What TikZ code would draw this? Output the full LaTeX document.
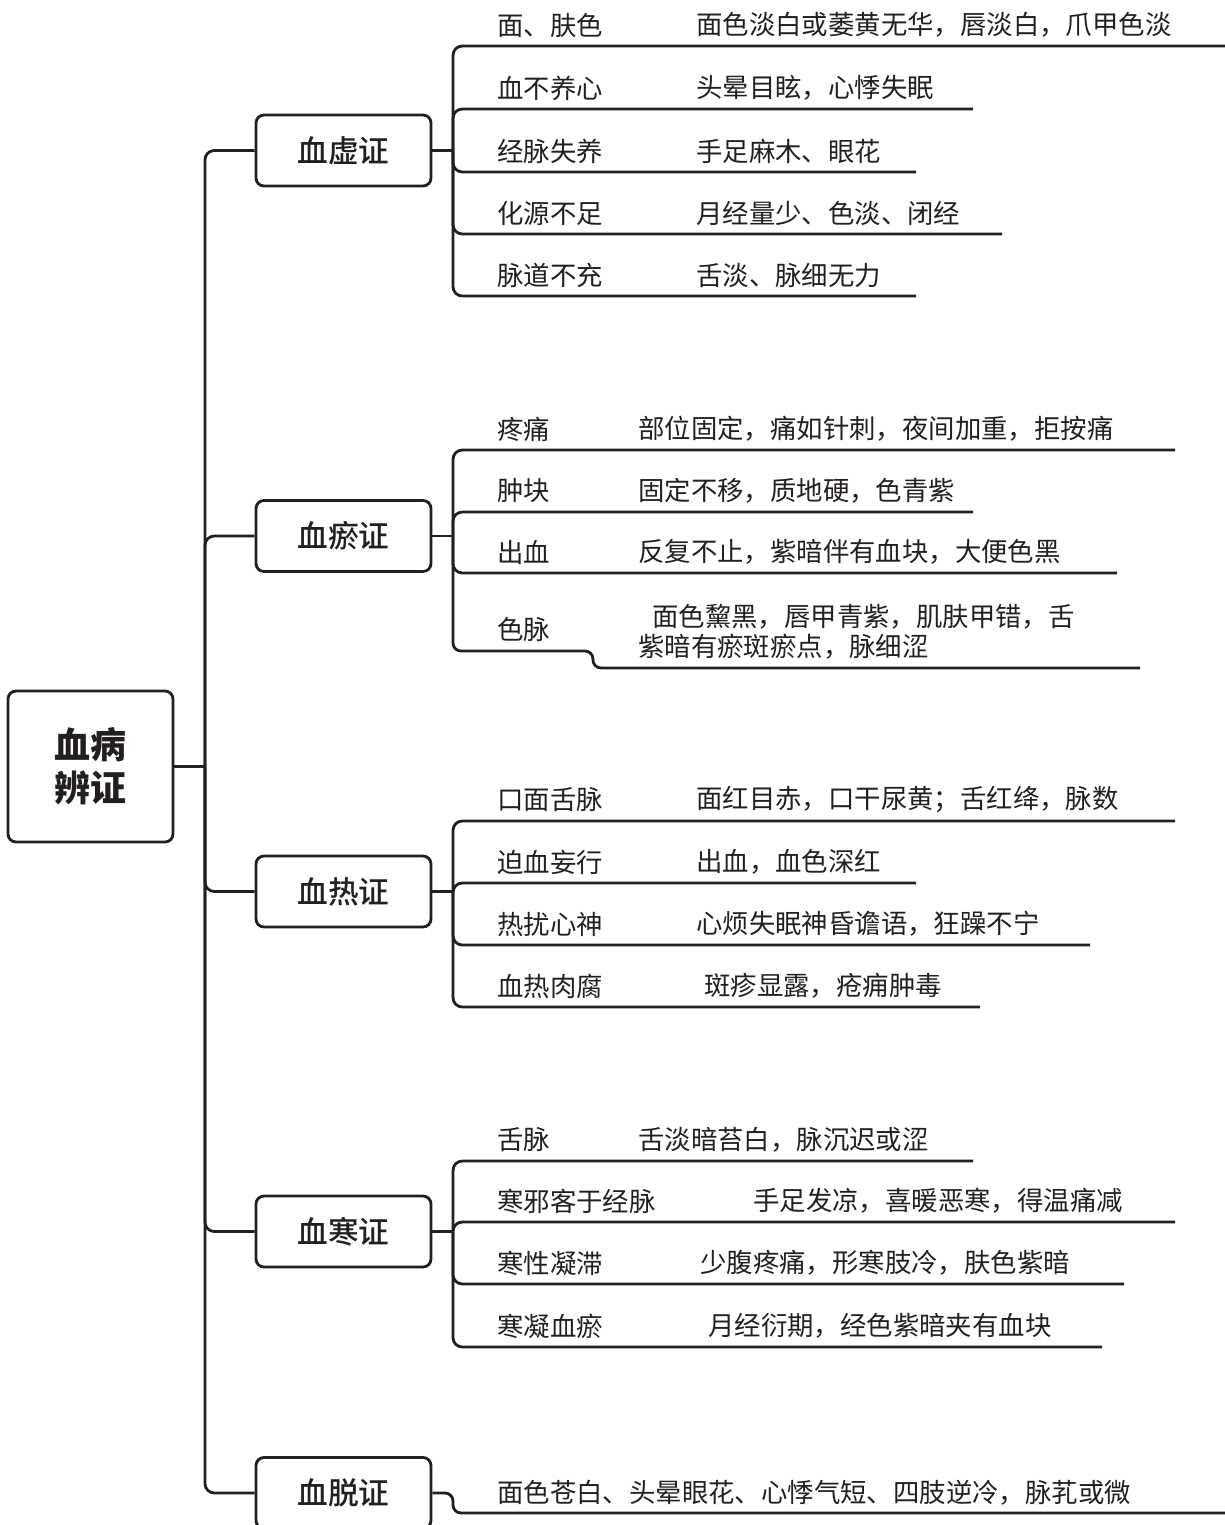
\documentclass[tikz,border=0pt]{standalone}
\usepackage{fontspec}
\setmainfont{Noto Sans CJK SC}
\newfontfamily\medf{Noto Sans CJK SC Medium}
\definecolor{ink}{RGB}{35,31,32}
\tikzset{
  conn/.style={draw=ink, line width=2.1pt, rounded corners=7pt},
  brbox/.style={draw=ink, line width=2.1pt, rounded corners=6pt, minimum width=131.25pt, minimum height=53.25pt, inner sep=0pt, text=ink, font=\fontsize{23}{26}\selectfont\medf},
  rootbox/.style={draw=ink, line width=2.1pt, rounded corners=6pt, minimum width=123.75pt, minimum height=113.25pt, inner sep=0pt, align=center, text=ink, font=\fontsize{27}{32.5}\selectfont\bfseries},
  leaf/.style={anchor=west, inner sep=0pt, text=ink, font=\fontsize{19.8}{22.5}\selectfont},
}
\newcommand\mkleaf[7]{%
  \node[leaf] (#1l) at (497,#3-21) {#4};
  \node[leaf] (#1d) at (#5,#3-21) {#6};
  \coordinate (#1e) at (#7,#3);
  \draw[conn] (#2) |- (#1e);
}
\begin{document}
\begin{tikzpicture}[x=0.75pt,y=-0.75pt]
\useasboundingbox (0,0) rectangle (1225,1525);

% root
\node[rootbox] (root) at (90.5,766.5) {血病\\辨证};
\coordinate (tj) at (205,766.5);
\draw[conn] (root.east) -- (tj);

% branch boxes
\node[brbox] (xu) at (343.5,150.5) {血虚证};
\node[brbox] (yu) at (343.5,536) {血瘀证};
\node[brbox] (re) at (343.5,891.5) {血热证};
\node[brbox] (han) at (343.5,1231.5) {血寒证};
\node[brbox] (tuo) at (343.5,1493) {血脱证};

\foreach \b in {xu,yu,re,han,tuo} \draw[conn] (tj) |- (\b.west);

% group junctions
\coordinate (xuj) at (453,150.5);
\coordinate (yuj) at (453,536);
\coordinate (rej) at (453,891.5);
\coordinate (hanj) at (453,1231.5);
\draw[conn] (xu.east) -- (xuj);
\draw[conn] (yu.east) -- (yuj);
\draw[conn] (re.east) -- (rej);
\draw[conn] (han.east) -- (hanj);

% 血虚证
\mkleaf{xa}{xuj}{46}{面、肤色}{696}{面色淡白或萎黄无华，唇淡白，爪甲色淡}{1226}
\mkleaf{xb}{xuj}{109}{血不养心}{696}{头晕目眩，心悸失眠}{973}
\mkleaf{xc}{xuj}{172}{经脉失养}{696}{手足麻木、眼花}{916}
\mkleaf{xd}{xuj}{234}{化源不足}{696}{月经量少、色淡、闭经}{1002}
\mkleaf{xe}{xuj}{296}{脉道不充}{696}{舌淡、脉细无力}{916}

% 血瘀证
\mkleaf{ya}{yuj}{450}{疼痛}{638}{部位固定，痛如针刺，夜间加重，拒按痛}{1175}
\mkleaf{yb}{yuj}{512}{肿块}{638}{固定不移，质地硬，色青紫}{973}
\mkleaf{yc}{yuj}{573}{出血}{638}{反复不止，紫暗伴有血块，大便色黑}{1117}
\node[leaf] (ydl) at (497,629) {色脉};
\node[leaf, align=left] (ydd) at (638,632) {\hspace*{10.5pt}面色黧黑，唇甲青紫，肌肤甲错，舌\\紫暗有瘀斑瘀点，脉细涩};
\coordinate (yds) at (593,651);
\coordinate (ydt) at (593,668);
\coordinate (yde) at (1140,668);
\draw[conn, rounded corners=6pt] (yuj) |- (yds) -- (ydt) -- (yde);

% 血热证
\mkleaf{ra}{rej}{821}{口面舌脉}{696}{面红目赤，口干尿黄；舌红绛，脉数}{1175}
\mkleaf{rb}{rej}{883}{迫血妄行}{696}{出血，血色深红}{916}
\mkleaf{rc}{rej}{945}{热扰心神}{696}{心烦失眠神昏谵语，狂躁不宁}{1090}
\mkleaf{rd}{rej}{1007}{血热肉腐}{704}{斑疹显露，疮痈肿毒}{980}

% 血寒证
\mkleaf{ha}{hanj}{1161}{舌脉}{638}{舌淡暗苔白，脉沉迟或涩}{973}
\mkleaf{hb}{hanj}{1222}{寒邪客于经脉}{753}{手足发凉，喜暖恶寒，得温痛减}{1175}
\mkleaf{hc}{hanj}{1284}{寒性凝滞}{700}{少腹疼痛，形寒肢冷，肤色紫暗}{1124}
\mkleaf{hd}{hanj}{1347}{寒凝血瘀}{708}{月经衍期，经色紫暗夹有血块}{1102}

% 血脱证
\coordinate (tuoj) at (453,1493);
\coordinate (tuoe) at (1226,1513);
\node[leaf] (tuod) at (497,1493) {面色苍白、头晕眼花、心悸气短、四肢逆冷，脉芤或微};
\draw[conn, rounded corners=6pt] (tuo.east) -- (tuoj) |- (tuoe);
\end{tikzpicture}
\end{document}
